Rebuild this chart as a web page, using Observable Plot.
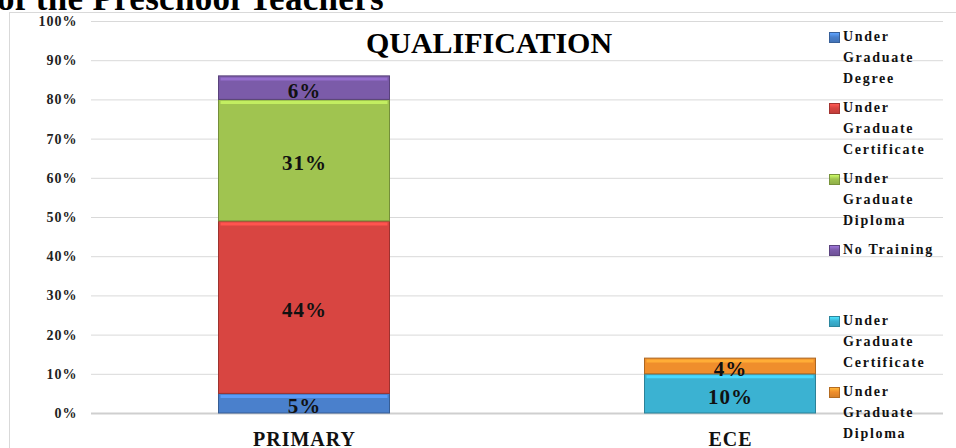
<!DOCTYPE html>
<html>
<head>
<meta charset="utf-8">
<script src="https://cdn.jsdelivr.net/npm/d3@7"></script>
<script src="https://cdn.jsdelivr.net/npm/@observablehq/plot@0.6"></script>
<style>
  html, body { margin: 0; padding: 0; background: #fff; }
  #wrap { position: relative; width: 956px; height: 448px; overflow: hidden; font-family: "Liberation Serif", "DejaVu Serif", serif; }
  #frame { position: absolute; left: 9px; top: 12px; width: 2000px; height: 2000px; border: 1px solid #d9d9d9; }
  #chart { position: absolute; left: 0; top: 0; }
  #chart svg text { letter-spacing: 1px; }
  .ttl { position: absolute; font-weight: bold; white-space: nowrap; color: #000; }
  #pretitle { left: -3px; top: -19px; font-size: 35px; line-height: 35px; letter-spacing: 0.3px; }
  #qual { left: 489px; top: 28px; font-size: 30px; line-height: 30px; transform: translateX(-50%); }
  .leg { position: absolute; left: 843px; width: 104px; font-weight: bold; font-size: 14px; line-height: 21px; letter-spacing: 1.7px; color: #111; }
  .sw { position: absolute; left: 829px; width: 9px; height: 9px; border: 1px solid; }
</style>
</head>
<body>
<div id="wrap">
  <div id="frame"></div>
  <div id="chart"></div>
  <div class="ttl" id="pretitle">of the Preschool Teachers</div>
  <div class="ttl" id="qual">QUALIFICATION</div>
</div>
<script>
// ---- data ----
const categories = ["PRIMARY", "ECE"];
const primarySeries = ["Under Graduate Degree", "Under Graduate Certificate", "Under Graduate Diploma", "No Training"];
const primaryValues = [5, 44, 31, 6];
const eceSeries = ["Under Graduate Certificate", "Under Graduate Diploma"];
const eceValues = [10, 4];
const yTicks = [0, 10, 20, 30, 40, 50, 60, 70, 80, 90, 100];
const title = "QUALIFICATION";

// ---- styles ----
const primaryColors = ["#4a80cc", "#d84541", "#a0c450", "#7b5ba9"];
const eceColors = ["#3bb2d2", "#ef8e2c"];

// build table
function build(category, series, values, colors) {
  let acc = 0;
  return series.map((s, i) => {
    const r = {category, series: s, value: values[i], color: colors[i], y1: acc, y2: acc + values[i]};
    acc += values[i];
    return r;
  });
}
const rows = [
  ...build(categories[0], primarySeries, primaryValues, primaryColors),
  ...build(categories[1], eceSeries, eceValues, eceColors)
];

const inset = 127.5;
const font = "Liberation Serif";

const chart = Plot.plot({
  width: 956,
  height: 448,
  marginLeft: 91,
  marginRight: 13,
  marginTop: 21,
  marginBottom: 35,
  x: {domain: categories, padding: 0, axis: null},
  y: {domain: [0, 100], axis: null},
  style: {fontFamily: font, background: "transparent", overflow: "visible"},
  marks: [
    Plot.ruleY(yTicks.filter(d => d !== 0), {stroke: "#d9d9d9", strokeWidth: 1}),
    Plot.ruleY([0], {stroke: "#cfcfcf", strokeWidth: 2}),
    Plot.rectY(rows, {
      x: "category", y1: "y1", y2: "y2",
      fill: d => d.color,
      stroke: d => d3.color(d.color).darker(0.9).formatHex(),
      strokeWidth: 1,
      insetLeft: inset, insetRight: inset
    }),
    Plot.tickY(rows, {
      x: "category", y: "y2",
      stroke: d => d3.color(d.color).brighter(0.55).formatHex(),
      strokeWidth: 3, dy: 2.5,
      insetLeft: inset + 2, insetRight: inset + 2
    }),
    Plot.text(rows, {
      x: "category", y: d => (d.y1 + d.y2) / 2,
      text: d => d.value + "%",
      fontSize: 21, fontWeight: "bold", fill: "#111", dy: 3
    }),
    Plot.text(yTicks, {
      y: d => d, text: d => d + "%",
      frameAnchor: "left", textAnchor: "end", dx: -14,
      fontSize: 14, fontWeight: "bold", fill: "#222"
    }),
    Plot.text(categories, {
      x: d => d, text: d => d,
      frameAnchor: "bottom", lineAnchor: "top", dy: 18.5,
      fontSize: 20, fontWeight: "bold", fill: "#111"
    })
  ]
});
document.getElementById("chart").appendChild(chart);
document.getElementById("qual").textContent = title;

// legend
const legendItems = [
  ...primarySeries.map((s, i) => ({label: s, color: primaryColors[i]})),
  ...eceSeries.map((s, i) => ({label: s, color: eceColors[i]}))
];
const wrap = document.getElementById("wrap");
legendItems.forEach((it, i) => {
  const cy = 37 + 71 * i;
  const sw = document.createElement("div");
  sw.className = "sw";
  sw.style.top = (cy - 5) + "px";
  const c = d3.color(it.color);
  sw.style.background = `linear-gradient(${c.brighter(0.7).formatHex()}, ${it.color} 45%, ${c.darker(0.3).formatHex()})`;
  sw.style.borderColor = c.darker(0.8).formatHex();
  wrap.appendChild(sw);
  const t = document.createElement("div");
  t.className = "leg";
  t.style.top = (cy - 10.6) + "px";
  t.textContent = it.label;
  wrap.appendChild(t);
});
</script>
</body>
</html>
